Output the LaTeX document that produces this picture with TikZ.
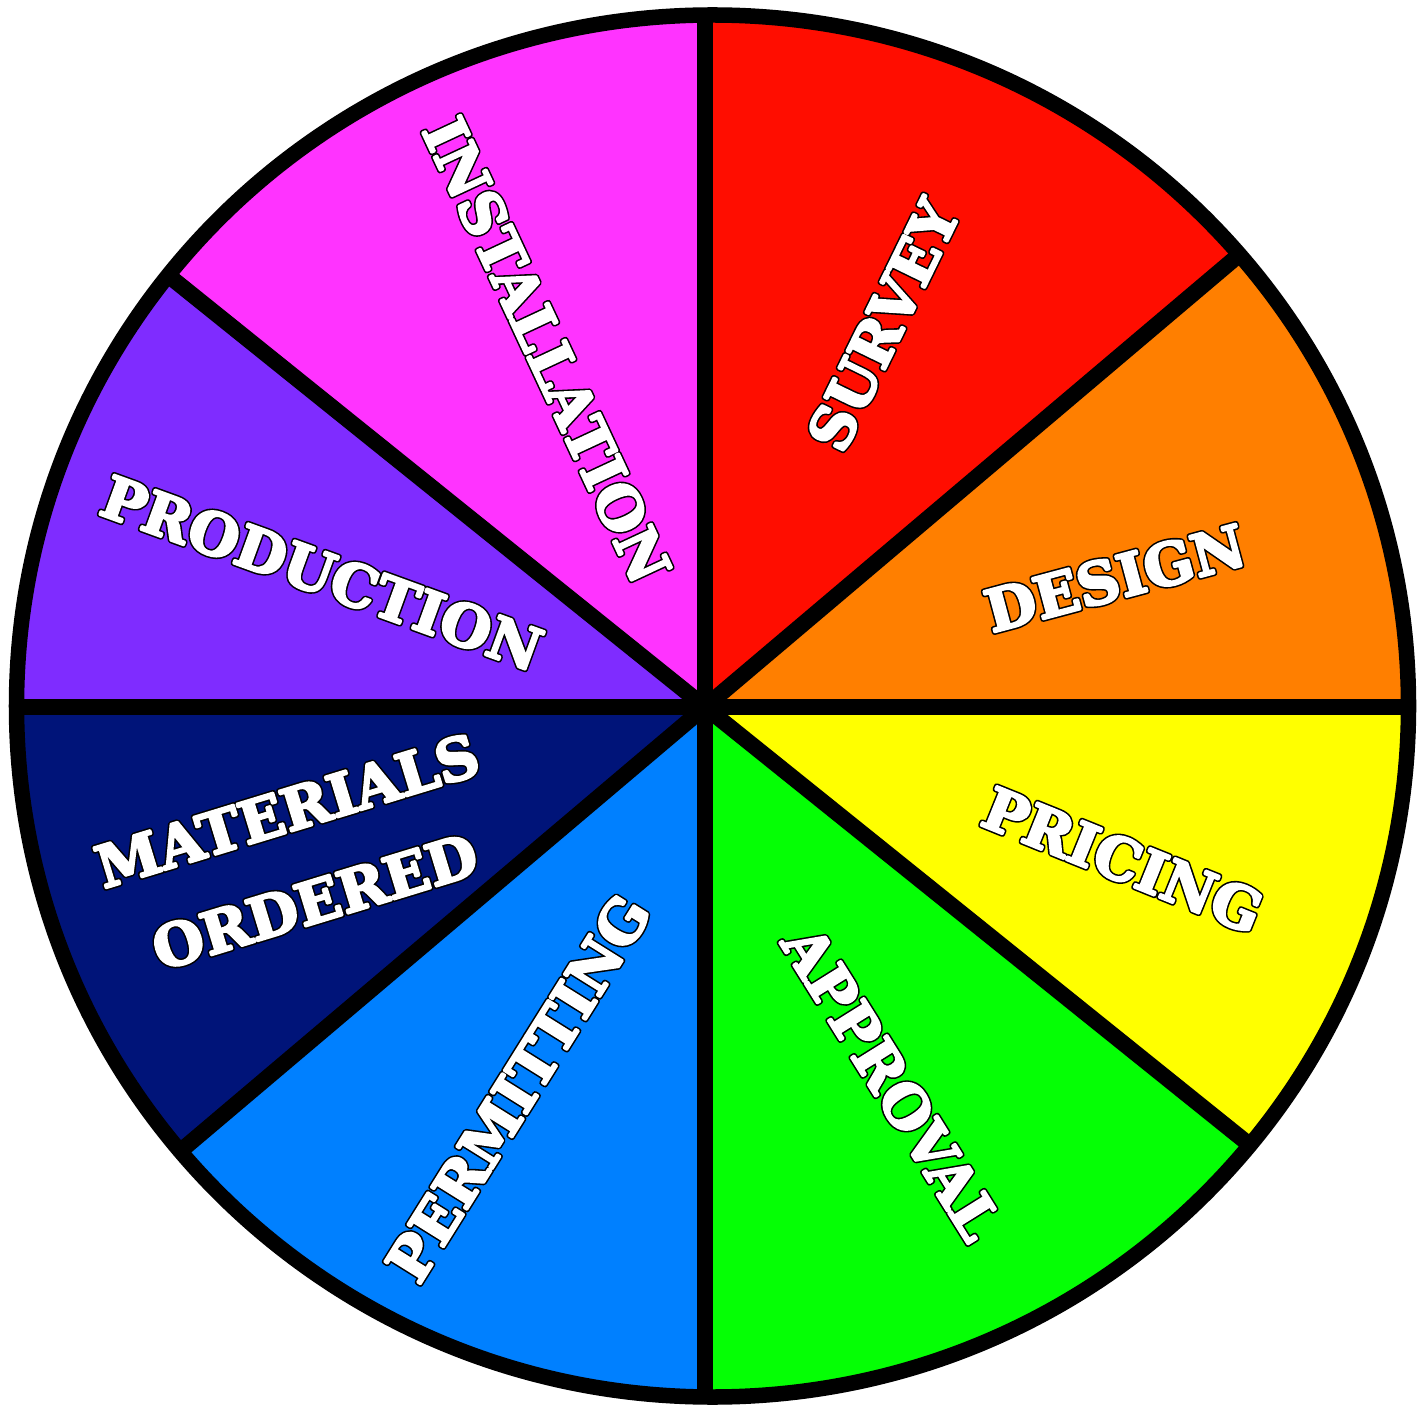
\documentclass[tikz,border=0pt]{standalone}
\usepackage{fontspec}
\newfontfamily\wheelfont{DejaVu Serif}
\usetikzlibrary{calc}
\definecolor{cRed}{HTML}{FF0D00}
\definecolor{cOrange}{HTML}{FF7F00}
\definecolor{cYellow}{HTML}{FFFF00}
\definecolor{cGreen}{HTML}{05FF05}
\definecolor{cBlue}{HTML}{0080FF}
\definecolor{cNavy}{HTML}{001479}
\definecolor{cPurple}{HTML}{7F2CFF}
\definecolor{cMagenta}{HTML}{FF33FF}
% white heavy text with a thin black outline:
% a black layer stroked wide, then a white layer stroked narrower on top
\newcommand\olt[1]{\rlap{\special{pdf:literal direct 2 Tr 1.6 w 1 j 0 0 0 rg 0 0 0 RG}#1}%
  \special{pdf:literal direct 2 Tr 0.7 w 1 j 1 1 1 rg 1 1 1 RG}#1\special{pdf:literal direct 0 Tr}}
\tikzset{
  lbl/.style={font=\wheelfont\bfseries\fontsize{16.5}{22}\selectfont, text=white, inner sep=0pt},
  divider/.style={line width=0.16cm, black},
  rim/.style={line width=0.155cm, black}
}
\begin{document}
\begin{tikzpicture}[x=0.01cm, y=-0.01cm]
\useasboundingbox[fill=white] (0,0) rectangle (1428,1410);
\coordinate (H) at (705,707);
\coordinate (C) at (712.5,706);
\begin{scope}
  \clip (C) ellipse [x radius=696, y radius=691];
  % sectors (angles in the y-down system)
  \fill[cRed]     (H) -- ($(H)+(-90:1200)$)  -- ($(H)+(-65:1200)$)  -- ($(H)+(-40.25:1200)$) -- cycle;
  \fill[cOrange]  (H) -- ($(H)+(-40.25:1200)$) -- ($(H)+(-20:1200)$) -- ($(H)+(0:1200)$) -- cycle;
  \fill[cYellow]  (H) -- ($(H)+(0:1200)$) -- ($(H)+(20:1200)$) -- ($(H)+(38.8:1200)$) -- cycle;
  \fill[cGreen]   (H) -- ($(H)+(38.8:1200)$) -- ($(H)+(65:1200)$) -- ($(H)+(90:1200)$) -- cycle;
  \fill[cBlue]    (H) -- ($(H)+(90:1200)$) -- ($(H)+(115:1200)$) -- ($(H)+(139.75:1200)$) -- cycle;
  \fill[cNavy]    (H) -- ($(H)+(139.75:1200)$) -- ($(H)+(160:1200)$) -- ($(H)+(180:1200)$) -- cycle;
  \fill[cPurple]  (H) -- ($(H)+(180:1200)$) -- ($(H)+(200:1200)$) -- ($(H)+(218.8:1200)$) -- cycle;
  \fill[cMagenta] (H) -- ($(H)+(218.8:1200)$) -- ($(H)+(245:1200)$) -- ($(H)+(270:1200)$) -- cycle;
  % dividers
  \draw[divider] ($(H)+(-90:1200)$) -- ($(H)+(90:1200)$);
  \draw[divider] ($(H)+(0:1200)$) -- ($(H)+(180:1200)$);
  \draw[divider] ($(H)+(-40.25:1200)$) -- ($(H)+(139.75:1200)$);
  \draw[divider] ($(H)+(38.8:1200)$) -- ($(H)+(218.8:1200)$);
\end{scope}
\draw[rim] (C) ellipse [x radius=696, y radius=691];
% labels
\node[lbl, rotate=64]  (survey)       at (883,325)  {\olt{SURVEY}};
\node[lbl, rotate=15]  (design)       at (1115,578) {\olt{DESIGN}};
\node[lbl, rotate=-22] (pricing)      at (1123,860) {\olt{PRICING}};
\node[lbl, rotate=-58] (approval)     at (892,1083) {\olt{APPROVAL}};
\node[lbl, rotate=58]  (permitting)   at (518,1088) {\olt{PERMITTING}};
\node[lbl, rotate=17, align=center] (materials) at (301,856) {\olt{MATERIALS}\\[5pt]\olt{ORDERED}};
\node[lbl, rotate=-20] (production)   at (322,573)  {\olt{PRODUCTION}};
\node[lbl, rotate=-65] (installation) at (547,350)  {\olt{INSTALLATION}};
\end{tikzpicture}
\end{document}
